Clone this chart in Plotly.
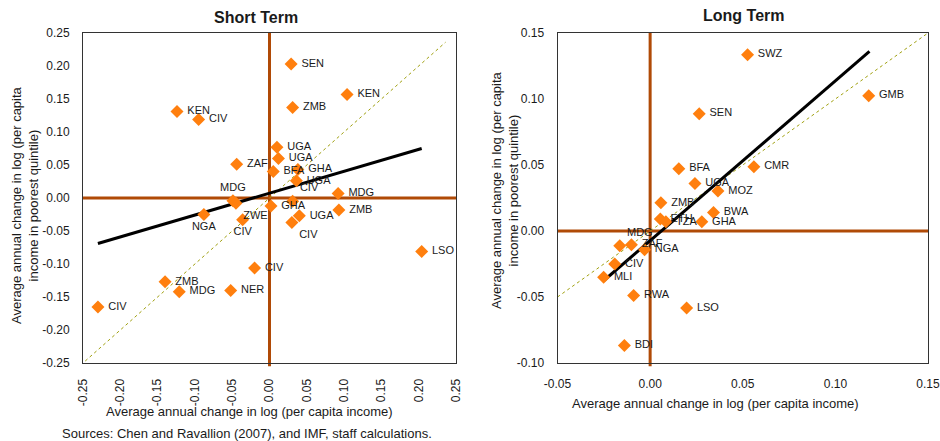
import plotly.graph_objects as go

# ---------------- Data: Short Term ----------------
st_codes = ["KEN", "CIV", "ZAF", "MDG", "ZWE", "CIV", "NGA", "UGA", "UGA", "BFA",
            "GHA", "UGA", "CIV", "GHA", "UGA", "CIV", "MDG", "ZMB", "SEN", "KEN",
            "ZMB", "LSO", "CIV", "ZMB", "MDG", "NER", "CIV"]
st_x = [-0.124, -0.095, -0.044, -0.049, -0.045, -0.036, -0.088, 0.010, 0.012, 0.005,
        0.038, 0.036, 0.031, 0.002, 0.040, 0.030, 0.092, 0.093, 0.029, 0.104,
        0.031, 0.204, -0.020, -0.140, -0.121, -0.052, -0.230]
st_y = [0.131, 0.119, 0.051, -0.004, -0.008, -0.033, -0.025, 0.077, 0.060, 0.040,
        0.043, 0.026, -0.005, -0.012, -0.027, -0.037, 0.007, -0.018, 0.203, 0.157,
        0.137, -0.081, -0.106, -0.127, -0.142, -0.140, -0.165]
st_pos = ["middle right", "middle right", "middle right", "top center", "bottom right",
          "bottom center", "bottom center", "middle right", "middle right", "middle right",
          "middle right", "middle right", "top right", "middle right", "middle right",
          "bottom right", "middle right", "middle right", "middle right", "middle right",
          "middle right", "middle right", "middle right", "middle right", "middle right",
          "middle right", "middle right"]
st_fit_x = [-0.230, 0.204]
st_fit_y = [-0.069, 0.075]
st_diag_x = [-0.247, 0.236]
st_diag_y = [-0.247, 0.236]
st_ticks = [-0.25, -0.20, -0.15, -0.10, -0.05, 0.00, 0.05, 0.10, 0.15, 0.20, 0.25]
st_ticktext = ["-0.25", "-0.20", "-0.15", "-0.10", "-0.05", "0.00", "0.05", "0.10", "0.15", "0.20", "0.25"]

# ---------------- Data: Long Term ----------------
lt_codes = ["SWZ", "SEN", "BFA", "CMR", "UGA", "MOZ", "ZMB", "BWA", "GHA", "ETH",
            "TZA", "MDG", "ZAF", "NGA", "CIV", "MLI", "RWA", "LSO", "BDI", "GMB"]
lt_x = [0.0526, 0.0265, 0.0155, 0.0560, 0.0242, 0.0366, 0.0058, 0.0342, 0.0279, 0.0055,
        0.0085, -0.0164, -0.0101, -0.0030, -0.0191, -0.0251, -0.0089, 0.0197, -0.0139, 0.1180]
lt_y = [0.1336, 0.0889, 0.0472, 0.0487, 0.0360, 0.0303, 0.0214, 0.0141, 0.0070, 0.0090,
        0.0070, -0.0112, -0.0104, -0.0142, -0.0250, -0.0351, -0.0488, -0.0583, -0.0867, 0.1025]
lt_pos = ["middle right"] * 11 + ["top right"] + ["middle right"] * 8
lt_fit_x = [-0.0251, 0.1184]
lt_fit_y = [-0.0377, 0.1360]
lt_diag_x = [-0.05, 0.15]
lt_diag_y = [-0.05, 0.15]
lt_xticks = [-0.05, 0.00, 0.05, 0.10, 0.15]
lt_xticktext = ["-0.05", "0.00", "0.05", "0.10", "0.15"]
lt_yticks = [-0.10, -0.05, 0.00, 0.05, 0.10, 0.15]
lt_yticktext = ["-0.10", "-0.05", "0.00", "0.05", "0.10", "0.15"]

# ---------------- Styles ----------------
W, H = 940, 441
FONT = "Liberation Sans, Arial, sans-serif"
ORANGE = "#FF7F0E"
AXIS_ORANGE = "#B04A06"
DIAG = "#A0A010"
TXT = "#1a1a1a"


def px(x):
    return x / W


def py(y):
    return 1 - y / H


def pad_labels(codes, positions):
    return [(" " + c) if p == "middle right" else c for c, p in zip(codes, positions)]


fig = go.Figure()

# Short term traces
fig.add_trace(go.Scatter(x=st_diag_x, y=st_diag_y, mode="lines", xaxis="x", yaxis="y",
                         line=dict(color=DIAG, width=1, dash="dot"), hoverinfo="skip"))
fig.add_trace(go.Scatter(x=st_fit_x, y=st_fit_y, mode="lines", xaxis="x", yaxis="y",
                         line=dict(color="black", width=3), hoverinfo="skip"))
fig.add_trace(go.Scatter(x=st_x, y=st_y, text=pad_labels(st_codes, st_pos), mode="markers+text",
                         textposition=st_pos, xaxis="x", yaxis="y",
                         marker=dict(symbol="diamond", size=10, color=ORANGE),
                         textfont=dict(family=FONT, size=11, color=TXT), cliponaxis=False))

# Long term traces
fig.add_trace(go.Scatter(x=lt_diag_x, y=lt_diag_y, mode="lines", xaxis="x2", yaxis="y2",
                         line=dict(color=DIAG, width=1, dash="dot"), hoverinfo="skip"))
fig.add_trace(go.Scatter(x=lt_fit_x, y=lt_fit_y, mode="lines", xaxis="x2", yaxis="y2",
                         line=dict(color="black", width=3), hoverinfo="skip"))
fig.add_trace(go.Scatter(x=lt_x, y=lt_y, text=pad_labels(lt_codes, lt_pos), mode="markers+text",
                         textposition=lt_pos, xaxis="x2", yaxis="y2",
                         marker=dict(symbol="diamond", size=10, color=ORANGE),
                         textfont=dict(family=FONT, size=11, color=TXT), cliponaxis=False))

# Zero reference lines
shapes = []
for xr, yr in (("x", "y"), ("x2", "y2")):
    shapes.append(dict(type="line", xref=xr, yref=yr + " domain",
                       x0=0, x1=0, y0=-0.01, y1=1, line=dict(color=AXIS_ORANGE, width=3), layer="below"))
    shapes.append(dict(type="line", xref=xr + " domain", yref=yr,
                       x0=0, x1=1, y0=0, y1=0, line=dict(color=AXIS_ORANGE, width=3), layer="below"))

axis_common = dict(showgrid=False, zeroline=False, showline=True, linecolor="#333333",
                   linewidth=1, mirror=True, ticks="", tickfont=dict(family=FONT, size=12, color=TXT),
                   ticklabelstandoff=10, fixedrange=True, automargin=False,
                   ticklabeloverflow="allow")

y_dom = [py(363), py(33)]

fig.update_layout(
    width=W, height=H,
    autosize=False,
    margin=dict(l=0, r=0, t=0, b=0, pad=0, autoexpand=False),
    paper_bgcolor="white", plot_bgcolor="white",
    showlegend=False,
    font=dict(family=FONT, size=11, color=TXT),
    xaxis=dict(domain=[px(83), px(456)], range=[-0.25, 0.25], tickvals=st_ticks, ticktext=st_ticktext,
               tickangle=-90, anchor="y", **axis_common),
    yaxis=dict(domain=y_dom, range=[-0.25, 0.25], tickvals=st_ticks, ticktext=st_ticktext,
               anchor="x", **axis_common),
    xaxis2=dict(domain=[px(557.5), px(928)], range=[-0.05, 0.15], tickvals=lt_xticks, ticktext=lt_xticktext,
                anchor="y2", **axis_common),
    yaxis2=dict(domain=y_dom, range=[-0.10, 0.15], tickvals=lt_yticks, ticktext=lt_yticktext,
                anchor="x2", **axis_common),
    shapes=shapes,
)

ann = [
    dict(text="<b>Short Term</b>", x=px(256), y=py(17), font=dict(size=16)),
    dict(text="<b>Long Term</b>", x=px(743), y=py(15), font=dict(size=16)),
    dict(text="Average annual change in log (per capita income)", x=px(249), y=py(411), font=dict(size=13)),
    dict(text="Average annual change in log (per capita income)", x=px(715), y=py(403), font=dict(size=13)),
    dict(text="Sources: Chen and Ravallion (2007), and IMF, staff calculations.", x=px(247), y=py(433),
         font=dict(size=13)),
    dict(text="Average annual change in log (per capita<br>income in poorest quintile)", x=px(25), y=py(205),
         textangle=-90, font=dict(size=13)),
    dict(text="Average annual change in log (per capita<br>income in poorest quintile)", x=px(505), y=py(190),
         textangle=-90, font=dict(size=13)),
]
for a in ann:
    a.update(xref="paper", yref="paper", showarrow=False, xanchor="center", yanchor="middle")
    a["font"] = dict(family=FONT, color=TXT, **a["font"])
fig.update_layout(annotations=ann)

fig.write_html("out.html", config={"responsive": False, "displayModeBar": False},
               post_script="document.body.style.margin='0';document.body.style.overflow='hidden';")
